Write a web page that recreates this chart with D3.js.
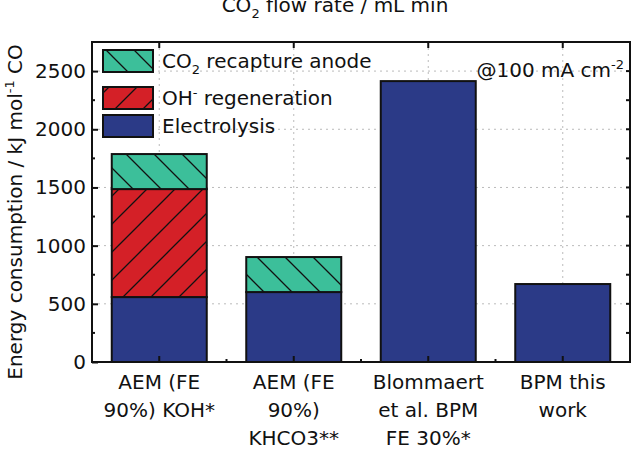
<!DOCTYPE html><html><head><meta charset="utf-8">
<script src="https://cdn.jsdelivr.net/npm/d3@7"></script>
<style>body{margin:0;background:#fff}text{font-family:"DejaVu Sans",sans-serif}</style></head><body>
<svg id="c" width="633" height="450"></svg>
<script>
const categories=[["AEM (FE","90%) KOH*"],["AEM (FE","90%)","KHCO3**"],["Blommaert","et al. BPM","FE 30%*"],["BPM this","work"]];
const electrolysis=[558,601,2414,670];
const ohRegen=[928,0,0,0];
const co2Recapture=[301,301,0,0];
const yTicks=[0,500,1000,1500,2000,2500];
const colors={co2:"#3cbf9a",oh:"#d42027",el:"#2b3a87"};
const FS=20;
const svg=d3.select("#c");
const L=92,R=630,T=42,B=362;
const x=d3.scalePoint().domain(d3.range(4)).range([L,R]).padding(0.5);
const bw=95;
const y=d3.scaleLinear().domain([0,2750]).range([B,T]);
const defs=svg.append("defs");
function pat(id,col,dir){const p=defs.append("pattern").attr("id",id).attr("patternUnits","userSpaceOnUse").attr("width",28).attr("height",28);
p.append("rect").attr("width",28).attr("height",28).attr("fill",col);
const d=dir>0?"M-7,7 L7,-7 M0,28 L28,0 M21,35 L35,21":"M-7,21 L7,35 M0,0 L28,28 M21,-7 L35,7";
p.append("path").attr("d",d).attr("stroke","#111").attr("stroke-width",1.3);}
pat("pc",colors.co2,-1);pat("po",colors.oh,1);
svg.append("g").selectAll("line").data(yTicks.slice(1)).join("line").attr("x1",L).attr("x2",R).attr("y1",d=>y(d)).attr("y2",d=>y(d)).attr("stroke","#bbb").attr("stroke-dasharray","2,4");
svg.append("g").selectAll("line").data(d3.range(4)).join("line").attr("x1",d=>x(d)).attr("x2",d=>x(d)).attr("y1",T).attr("y2",B).attr("stroke","#bbb").attr("stroke-dasharray","2,4");
const stacks=d3.range(4).map(i=>{const a=electrolysis[i],b=a+ohRegen[i],c=b+co2Recapture[i];return [[0,a,colors.el],[a,b,"url(#po)"],[b,c,"url(#pc)"]].filter(s=>s[1]>s[0]).map(s=>({i,y0:s[0],y1:s[1],f:s[2]}));}).flat();
svg.append("g").selectAll("rect").data(stacks).join("rect").attr("x",d=>x(d.i)-bw/2).attr("width",bw).attr("y",d=>y(d.y1)).attr("height",d=>y(d.y0)-y(d.y1)).attr("fill",d=>d.f).attr("stroke","#111").attr("stroke-width",2);
svg.append("rect").attr("x",L).attr("y",T).attr("width",R-L).attr("height",B-T).attr("fill","none").attr("stroke","#111").attr("stroke-width",2);
const ya=svg.append("g").attr("transform",`translate(${L},0)`).call(d3.axisLeft(y).tickValues(yTicks).tickFormat(d3.format("d")).tickSize(-6).tickPadding(6));
ya.select(".domain").remove();ya.selectAll("text").attr("font-size",FS).attr("fill","#111");ya.selectAll("line").attr("stroke","#111").attr("stroke-width",2);
svg.append("g").selectAll("line").data(d3.range(250,2750,500)).join("line").attr("x1",L).attr("x2",L+3).attr("y1",d=>y(d)).attr("y2",d=>y(d)).attr("stroke","#111").attr("stroke-width",2);
svg.append("g").selectAll("line").data(yTicks.concat(d3.range(250,2750,500))).join("line").attr("x1",R).attr("x2",R-4).attr("y1",d=>y(d)).attr("y2",d=>y(d)).attr("stroke","#111").attr("stroke-width",2);
const xt=d3.range(4).map(x);const mt=d3.range(1,4).map(i=>(x(i-1)+x(i))/2);
svg.append("g").selectAll("line").data(xt).join("line").attr("x1",d=>d).attr("x2",d=>d).attr("y1",B).attr("y2",B-6).attr("stroke","#111").attr("stroke-width",2);
svg.append("g").selectAll("line").data(xt).join("line").attr("x1",d=>d).attr("x2",d=>d).attr("y1",T).attr("y2",T+6).attr("stroke","#111").attr("stroke-width",2);
svg.append("g").selectAll("line").data(mt).join("line").attr("x1",d=>d).attr("x2",d=>d).attr("y1",B).attr("y2",B-3).attr("stroke","#111").attr("stroke-width",2);
svg.append("g").selectAll("text").data(categories).join("text").attr("text-anchor","middle").attr("font-size",FS).attr("fill","#111")
 .attr("transform",(d,i)=>`translate(${x(i)},389)`).each(function(d){d3.select(this).selectAll("tspan").data(d).join("tspan").attr("x",0).attr("dy",(t,j)=>j?28:0).text(t=>t);});
svg.append("text").attr("transform","translate(22,212) rotate(-90)").attr("text-anchor","middle").attr("font-size",FS).attr("fill","#111")
 .html('Energy consumption / kJ mol<tspan dy="-8" font-size="13">-1</tspan><tspan dy="8"> CO</tspan>');
svg.append("text").attr("x",335).attr("y",12).attr("text-anchor","middle").attr("font-size",FS).attr("fill","#111")
 .html('CO<tspan dy="6" font-size="13">2</tspan><tspan dy="-6"> flow rate / mL min</tspan>');
const leg=[["pc",'CO<tspan dy="6" font-size="13">2</tspan><tspan dy="-6"> recapture anode</tspan>',50],["po",'OH<tspan dy="-8" font-size="13">-</tspan><tspan dy="8"> regeneration</tspan>',87],["el","Electrolysis",115]];
leg.forEach(([k,t,yy])=>{svg.append("rect").attr("x",103).attr("y",yy).attr("width",50).attr("height",22).attr("fill",k==="el"?colors.el:`url(#${k})`).attr("stroke","#111").attr("stroke-width",2);
 svg.append("text").attr("x",162).attr("y",yy+18).attr("font-size",FS).attr("fill","#111").html(t);});
svg.append("text").attr("x",624).attr("y",77).attr("text-anchor","end").attr("font-size",FS).attr("fill","#111").html('@100 mA cm<tspan dy="-8" font-size="13">-2</tspan>');
</script></body></html>
